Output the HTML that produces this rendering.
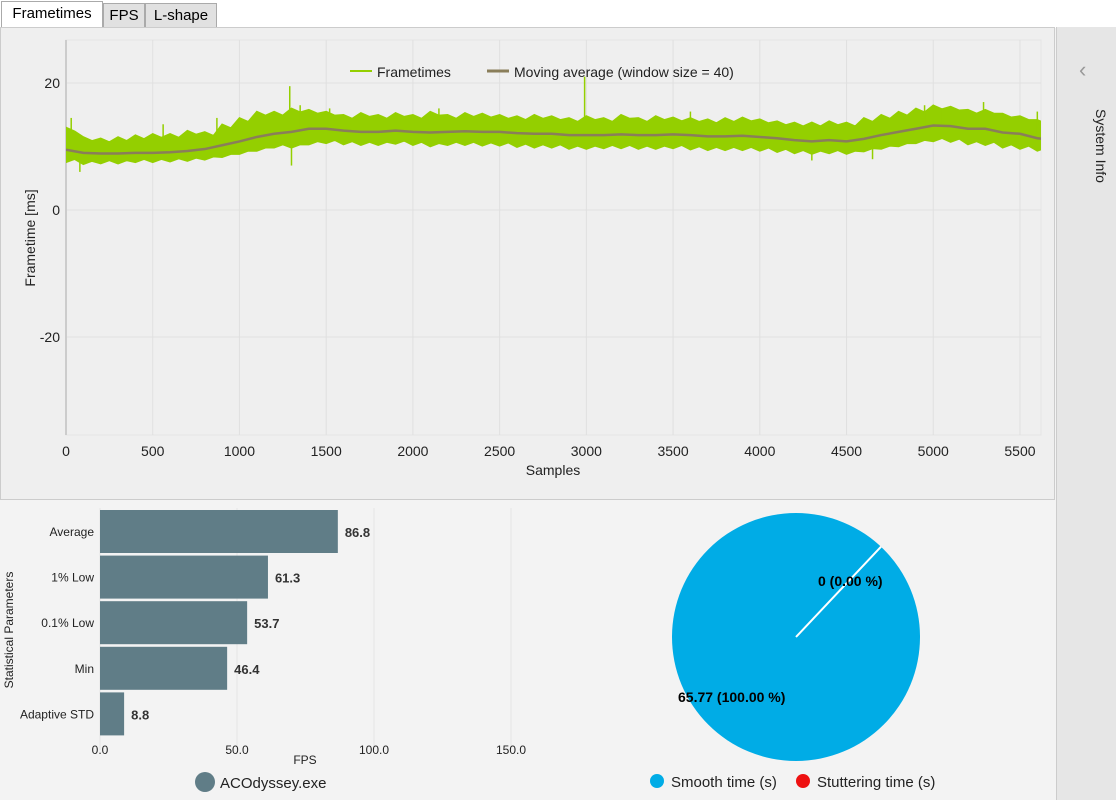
<!DOCTYPE html>
<html><head><meta charset="utf-8"><style>
body{margin:0;width:1116px;height:800px;position:relative;background:#f3f3f3;font-family:"Segoe UI","Liberation Sans",sans-serif;overflow:hidden}
.tab{position:absolute;top:3px;height:23px;border:1px solid #aaa;border-bottom:none;background:#e1e1e1;font-size:15px;line-height:23px;text-align:center;color:#000}
svg text{font-family:"Liberation Sans",sans-serif}
</style></head><body>
<div style="position:absolute;left:0;top:0;width:1116px;height:28px;background:#fff"></div>
<div class="tab" style="left:1px;width:100px;top:1px;height:26px;background:#fff">Frametimes</div>
<div class="tab" style="left:103px;width:40px">FPS</div>
<div class="tab" style="left:145px;width:70px">L-shape</div>
<div style="position:absolute;left:0;top:27px;width:1055px;height:473px;background:#efefef;border:1px solid #ccc;box-sizing:border-box"></div>
<div style="position:absolute;left:1056px;top:27px;width:60px;height:773px;background:#e6e6e6;border-left:1px solid #ccc">
<div style="position:absolute;left:22px;top:30px;font-size:22px;color:#999">‹</div>
<div style="position:absolute;left:52px;top:82px;transform:rotate(90deg);transform-origin:0 0;white-space:nowrap;font-size:14px;color:#222">System Info</div>
</div>
<svg id="ft" width="1116" height="800" style="position:absolute;left:0;top:0"></svg>
<script>
const samplesStep=100;
const avgVals=[9.5,9,8.9,8.9,9,9,9.1,9.3,9.6,10.2,10.8,11.5,12,12.3,12.8,12.8,12.5,12.3,12.3,12.5,12.3,12.2,12.3,12.4,12.3,12.3,12.1,12,12,11.8,11.8,11.8,11.9,11.8,11.8,11.9,11.8,11.6,11.6,11.7,11.5,11.3,11,10.8,11,10.8,11.2,11.8,12.3,12.8,13.3,13.2,12.8,12.8,12.2,12,11.3,11];
const upperVals=[13,11.5,11.3,11.5,11.8,12,12,12.5,12.3,13.5,14.5,15.5,15.5,16,15.8,15.5,15,15.3,15,15.3,15,15.5,15,15.3,15.2,15,14.8,15,14.8,14.5,14.8,14.5,15,14.5,14.8,14.6,14.5,14.3,14.5,14.6,14.3,14,13.8,13.8,14,13.8,14.5,15,15.5,16,16.5,16.3,15.8,15.8,15.2,14.8,14.2,13.8];
const lowerVals=[7.5,7.2,7.3,7.3,7.5,7.5,7.6,7.7,7.9,8.3,8.8,9.3,9.8,9.8,10.3,10.5,10.3,10.2,10.2,10.4,10.2,10,10.2,10.2,10.1,10.1,9.9,9.8,9.8,9.6,9.6,9.7,9.7,9.6,9.6,9.7,9.5,9.4,9.4,9.4,9.3,9.1,8.9,8.8,8.9,8.8,9.2,9.6,10,10.5,10.8,10.7,10.3,10.2,9.8,9.6,9.3,9.2];
const spikeIdx=[30,80,560,870,1290,1300,1350,1520,2150,2990,3600,4300,4650,4950,5050,5290,5600];
const spikeVals=[14.5,6,13.5,14.5,19.5,7,16.5,16,16,21,15.5,7.8,8,16.5,16,17,15.5];
const xTicks=[0,500,1000,1500,2000,2500,3000,3500,4000,4500,5000,5500];
const yTicks=[20,0,-20];
const NS="http://www.w3.org/2000/svg";
const svg=document.getElementById('ft');
const X=s=>66+s*0.17345, Y=v=>210-v*6.35;
function mk(t,a,p){const e=document.createElementNS(NS,t);for(const k in a)e.setAttribute(k,a[k]);(p||svg).appendChild(e);return e;}
const defs=mk('defs',{});
const cp=mk('clipPath',{id:'clipPlot'},defs);
mk('rect',{x:66,y:40,width:975,height:395},cp);
const plot=mk('rect',{x:66,y:40,width:975,height:395,fill:'#efefef',stroke:'#e4e4e4'});


xTicks.forEach(t=>{
 const l=mk('line',{x1:X(t),x2:X(t),y1:40,y2:435,stroke:'#e0e0e0'});
 
 
 const tx=mk('text',{x:X(t),y:456,'text-anchor':'middle','font-size':14,fill:'#222'});tx.textContent=t;
 
 
});
[20,0,-20].forEach(v=>{
 const l=mk('line',{x1:66,x2:1041,y1:Y(v),y2:Y(v),stroke:'#e0e0e0'});
 
 
});
yTicks.forEach(v=>{
 const tx=mk('text',{x:60,y:Y(v)+5,'text-anchor':'end','font-size':14,fill:'#222'});tx.textContent=v;
 
 
});
const ax=mk('line',{x1:66,x2:66,y1:40,y2:435,stroke:'#ccc','stroke-width':2});


const g=mk('g',{'clip-path':'url(#clipPlot)'});


let pts=[];
upperVals.forEach((v,i)=>{const s=i*samplesStep;pts.push(X(s)+','+Y(v),X(s+50)+','+Y(v-0.6));});
for(let i=lowerVals.length-1;i>=0;i--){const s=i*samplesStep;pts.push(X(s+50)+','+Y(lowerVals[i]+0.5),X(s)+','+Y(lowerVals[i]));}
const band=mk('polygon',{points:pts.join(' '),fill:'#94cf00',stroke:'#94cf00','stroke-width':1.5},g);


spikeIdx.forEach((s,i)=>{
 const k=Math.min(Math.round(s/samplesStep),avgVals.length-1);
 const l=mk('line',{x1:X(s),x2:X(s),y1:Y(avgVals[k]),y2:Y(spikeVals[i]),stroke:'#94cf00','stroke-width':1.5},g);
 
 
});
const ma=mk('polyline',{points:avgVals.map((v,i)=>X(i*samplesStep)+','+Y(v)).join(' '),fill:'none',stroke:'#8a7e5a','stroke-width':2.5},g);


const lg=mk('g',{});


mk('line',{x1:350,x2:372,y1:71,y2:71,stroke:'#94cf00','stroke-width':2},lg);
let t1=mk('text',{x:377,y:77,'font-size':14,fill:'#222'},lg);t1.textContent='Frametimes';
mk('line',{x1:487,x2:509,y1:71,y2:71,stroke:'#8a7e5a','stroke-width':3},lg);
let t2=mk('text',{x:514,y:77,'font-size':14,fill:'#222'},lg);t2.textContent='Moving average (window size = 40)';
const xt=mk('text',{x:553,y:475,'text-anchor':'middle','font-size':14,fill:'#222'});xt.textContent='Samples';


const yt=mk('text',{x:0,y:0,'text-anchor':'middle','font-size':14,fill:'#222',transform:'translate(35,238) rotate(-90)'});yt.textContent='Frametime [ms]';


</script>
<svg id="bar" width="560" height="300" style="position:absolute;left:0;top:500px"></svg>
<script>
const barCats=['Average','1% Low','0.1% Low','Min','Adaptive STD'];
const barVals=[86.8,61.3,53.7,46.4,8.8];
const fpsTicks=[0,50,100,150];
(function(){
const NS="http://www.w3.org/2000/svg",s=document.getElementById('bar');
function mk(t,a){const e=document.createElementNS(NS,t);for(const k in a)e.setAttribute(k,a[k]);s.appendChild(e);return e;}
const BX=v=>100+v*2.74;
fpsTicks.forEach(t=>{
 const l=mk('line',{x1:BX(t),x2:BX(t),y1:8,y2:250,stroke:'#e6e6e6'});
 
 
 const tx=mk('text',{x:BX(t),y:254,'text-anchor':'middle','font-size':12,fill:'#222'});tx.textContent=t.toFixed(1);
 
 
});
barCats.forEach((c,i)=>{
 const y=10+i*45.6;
 const r=mk('rect',{x:BX(0),y:y,width:BX(barVals[i])-BX(0),height:43,fill:'#607d87'});
 
 
 const lb=mk('text',{x:94,y:y+26,'text-anchor':'end','font-size':12,fill:'#222'});lb.textContent=c;
 
 
 const vl=mk('text',{x:BX(barVals[i])+7,y:y+27,'font-size':13,'font-weight':'bold',fill:'#333'});vl.textContent=barVals[i].toFixed(1);
 
 
});
const ft=mk('text',{x:305,y:264,'text-anchor':'middle','font-size':12,fill:'#222'});ft.textContent='FPS';


const st=mk('text',{x:0,y:0,'text-anchor':'middle','font-size':12,fill:'#222',transform:'translate(13,130) rotate(-90)'});st.textContent='Statistical Parameters';


const c=mk('circle',{cx:205,cy:282,r:10,fill:'#607d87'});


const lt=mk('text',{x:220,y:288,'font-size':15,fill:'#222'});lt.textContent='ACOdyssey.exe';


})();
</script>
<svg id="pie" width="500" height="300" style="position:absolute;left:560px;top:500px"></svg>
<script>
const pieLabels=['Smooth time (s)','Stuttering time (s)'];
const pieVals=[65.77,0];
(function(){
const NS="http://www.w3.org/2000/svg",s=document.getElementById('pie');
function mk(t,a){const e=document.createElementNS(NS,t);for(const k in a)e.setAttribute(k,a[k]);s.appendChild(e);return e;}
const cx=236,cy=137,r=124,total=pieVals.reduce((a,b)=>a+b,0);
const start=-Math.PI/4-0.03;
const frac=pieVals[0]/total;
const c=mk('circle',{cx:cx,cy:cy,r:r,fill:'#00ace6'});


const l=mk('line',{x1:cx,y1:cy,x2:cx+r*Math.cos(start),y2:cy+r*Math.sin(start),stroke:'#fff','stroke-width':2});


const a=mk('text',{x:258,y:86,'font-size':14,'font-weight':'bold',fill:'#000'});a.textContent=pieVals[1]+' ('+(pieVals[1]/total*100).toFixed(2)+' %)';


const b=mk('text',{x:118,y:202,'font-size':14,'font-weight':'bold',fill:'#000'});b.textContent=pieVals[0].toFixed(2)+' ('+(frac*100).toFixed(2)+' %)';


const cols=['#00ace6','#ee1111'],xs=[97,243];
pieLabels.forEach((p,i)=>{
 const m=mk('circle',{cx:xs[i],cy:281,r:7,fill:cols[i]});
 
 
 const t=mk('text',{x:xs[i]+14,y:287,'font-size':15,fill:'#222'});t.textContent=p;
 
 
});
})();
</script>
</body></html>
